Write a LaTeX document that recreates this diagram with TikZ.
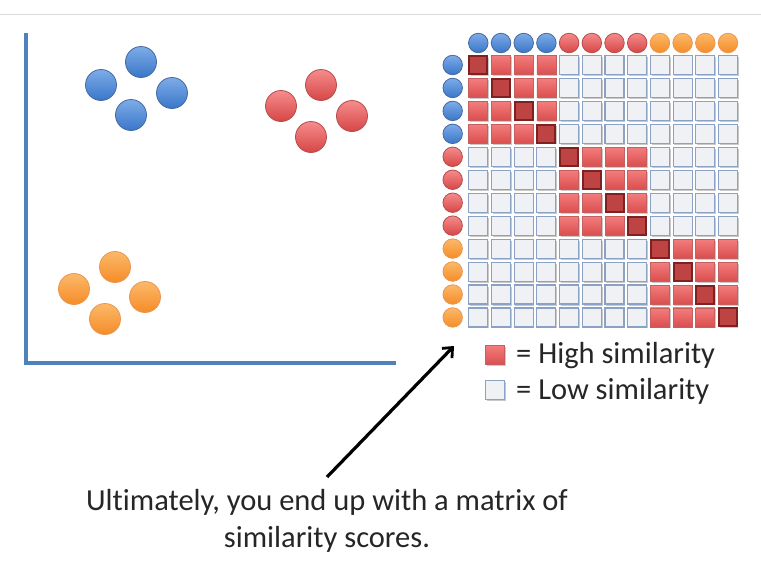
\documentclass[tikz,border=0pt]{standalone}
\usepackage{fontspec}
\setmainfont{Carlito}[Ligatures=NoCommon]
\usetikzlibrary{arrows.meta,shadows}
\definecolor{axisblue}{RGB}{79,129,189}
\definecolor{txt}{RGB}{38,38,38}
\definecolor{blueT}{RGB}{125,172,232}
\definecolor{blueB}{RGB}{58,118,200}
\definecolor{blueD}{RGB}{70,105,160}
\definecolor{redT}{RGB}{245,140,140}
\definecolor{redB}{RGB}{215,70,70}
\definecolor{redD}{RGB}{185,75,75}
\definecolor{orT}{RGB}{252,185,105}
\definecolor{orB}{RGB}{245,140,40}
\definecolor{orD}{RGB}{235,150,80}
\definecolor{lowF}{RGB}{240,241,244}
\definecolor{lowD}{RGB}{140,162,196}
\definecolor{hiT}{RGB}{243,125,125}
\definecolor{hiB}{RGB}{218,78,78}
\definecolor{hiD}{RGB}{200,95,95}
\definecolor{diagF}{RGB}{190,68,68}
\definecolor{diagD}{RGB}{128,32,32}
\tikzset{
  dotbase/.style={circle,inner sep=0pt,line width=0.8pt,shading=axis,shading angle=0},
  bluedot/.style={dotbase,draw=blueD,top color=blueT,bottom color=blueB},
  reddot/.style={dotbase,draw=redD,top color=redT,bottom color=redB},
  orangedot/.style={dotbase,draw=orD,top color=orT,bottom color=orB},
  bigdot/.style={minimum size=31pt},
  smalldot/.style={minimum size=19.5pt},
  cellbase/.style={rectangle,inner sep=0pt,minimum size=19pt,
     drop shadow={shadow xshift=1.2pt,shadow yshift=-1.5pt,opacity=0.35,fill=black!60}},
  lowcell/.style={cellbase,draw=lowD,fill=lowF,line width=1.1pt},
  highcell/.style={cellbase,draw=hiD,top color=hiT,bottom color=hiB,line width=0.8pt},
  diagcell/.style={cellbase,draw=diagD,fill=diagF,line width=2pt,minimum size=18pt},
  axisline/.style={draw=axisblue,line width=3.2pt},
  label/.style={text=txt,font=\fontsize{30.5}{36}\selectfont,inner sep=0pt}
}
\begin{document}
\begin{tikzpicture}[x=1pt,y=-1pt]
\useasboundingbox (0,0) rectangle (761,573);
\fill[white] (0,0) rectangle (761,573);
% top rule
\coordinate (rl) at (0,14.5);
\coordinate (rr) at (761,14.5);
\draw[black!15,line width=0.8pt] (rl) -- (rr);
% axes
\coordinate (ytop) at (26,33);
\coordinate (orig) at (26,363);
\coordinate (xend) at (396,363);
\draw[axisline] (ytop) -- (orig) -- (xend);
% scatter clusters
\node[bluedot,bigdot] (b1) at (101,85) {};
\node[bluedot,bigdot] (b2) at (141,62) {};
\node[bluedot,bigdot] (b3) at (172,93) {};
\node[bluedot,bigdot] (b4) at (131,115) {};
\node[reddot,bigdot] (r1) at (281,106) {};
\node[reddot,bigdot] (r2) at (321,85) {};
\node[reddot,bigdot] (r3) at (352,116) {};
\node[reddot,bigdot] (r4) at (311,137) {};
\node[orangedot,bigdot] (o1) at (115,267) {};
\node[orangedot,bigdot] (o2) at (74,289) {};
\node[orangedot,bigdot] (o3) at (145,297) {};
\node[orangedot,bigdot] (o4) at (105,319) {};
% matrix
\foreach \i in {0,...,11}{
  \pgfmathtruncatemacro{\gi}{int(\i/4)}
  \ifcase\gi \def\dc{bluedot}\or \def\dc{reddot}\else \def\dc{orangedot}\fi
  \node[\dc,smalldot] (top-\i) at ({478.3+22.7*\i},43) {};
  \node[\dc,smalldot] (left-\i) at (452.7,{65+22.95*\i}) {};
  \foreach \j in {0,...,11}{
    \pgfmathtruncatemacro{\gj}{int(\j/4)}
    \ifnum\gi=\gj
      \ifnum\i=\j \def\cs{diagcell}\else\def\cs{highcell}\fi
    \else \def\cs{lowcell}\fi
    \node[\cs] (c-\i-\j) at ({478.3+22.7*\j},{65+22.95*\i}) {};
  }
}
% legend
\node[highcell] (lh) at (495,355) {};
\node[lowcell] (ll) at (495,390) {};
\node[label,anchor=west] (lht) at (516,356) {= High similarity};
\node[label,anchor=west] (llt) at (516,391) {= Low similarity};
% caption
\node[label,align=center,font=\fontsize{30.5}{37}\selectfont] (cap) at (327,521)
  {Ultimately, you end up with a matrix of\\similarity scores.};
% arrow
\coordinate (as) at (327,477);
\coordinate (ae) at (454,346);
\draw[line width=3.2pt,-{Straight Barb[length=8pt,width=14pt,line width=2.8pt]}] (as) -- (ae);
\end{tikzpicture}
\end{document}
